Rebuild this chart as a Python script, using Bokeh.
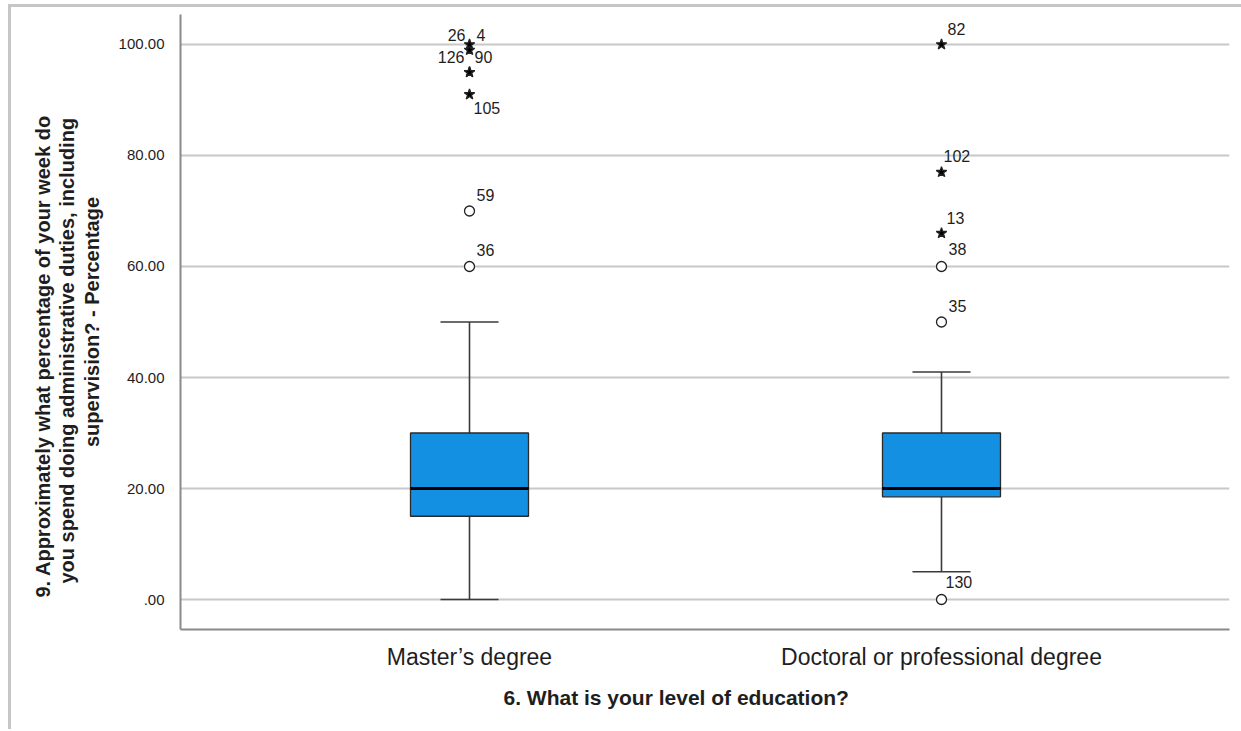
from bokeh.core.properties import value
from bokeh.embed import file_html
from bokeh.models import (ColumnDataSource, FixedTicker, InlineStyleSheet,
                          Range1d, Title)
from bokeh.plotting import figure
from bokeh.resources import INLINE

# ---- data -------------------------------------------------------------
categories = ["Master\u2019s degree", "Doctoral or professional degree"]
positions = [1, 2]

q1 = [15, 18.5]
median = [20, 20]
q3 = [30, 30]
whisker_low = [0, 5]
whisker_high = [50, 41]

# outliers: group index, value, case id, extreme (star) or not (circle)
out_group = [0, 0, 0, 0, 0, 0, 0, 1, 1, 1, 1, 1, 1]
out_value = [60, 70, 91, 95, 95, 99, 100, 0, 50, 60, 66, 77, 100]
out_case = ["36", "59", "105", "126", "90", "4", "26",
            "130", "35", "38", "13", "102", "82"]
out_extreme = [False, False, True, True, True, True, True,
               False, False, False, True, True, True]

y_ticks = [0, 20, 40, 60, 80, 100]
y_tick_labels = [".00", "20.00", "40.00", "60.00", "80.00", "100.00"]

x_title = "6. What is your level of education?"
y_title = ["9. Approximately what percentage of your week do",
           "you spend doing administrative duties, including",
           "supervision? - Percentage"]

# case-label placement (pixels: dx right, dy up, alignment)
label_dx = [7, 7, 4, -5, 5, 7, -4, 4, 7, 7, 5, 2, 6]
label_dy = [16, 16, -14, 15, 15, 15, 9, 18, 16, 17, 15, 16, 15]
label_align = ["left", "left", "left", "right", "left", "left", "right",
               "left", "left", "left", "left", "left", "left"]

# ---- styling ----------------------------------------------------------
FONT = "Liberation Sans"
BOX_W = 0.25
CAP_W = 0.123
TEXT_C = "#1e1e1e"

p = figure(width=1241, height=731, output_backend="svg", toolbar_location=None,
           x_range=Range1d(0.3877, 2.6102), y_range=Range1d(-5.405, 105.405),
           min_border_left=180, min_border_right=12, min_border_top=14,
           min_border_bottom=102)
p.outline_line_color = None
p.background_fill_color = "white"
p.border_fill_color = "white"
p.border_fill_alpha = 0
p.stylesheets = [InlineStyleSheet(css="""
:host { background: white; }
:host::after {
  content: ""; position: absolute; left: 8px; top: 4px; right: -20px;
  bottom: 2px; border-left: 3px solid #c6c6c6; border-top: 3px solid #c6c6c6;
  pointer-events: none;
}
""")]

# axes
p.yaxis.ticker = FixedTicker(ticks=y_ticks)
p.yaxis.major_label_overrides = dict(zip(y_ticks, y_tick_labels))
p.xaxis.ticker = FixedTicker(ticks=positions)
p.xaxis.major_label_overrides = dict(zip(positions, categories))
for ax in (p.xaxis[0], p.yaxis[0]):
    ax.axis_line_color = "#8a8a8a"
    ax.axis_line_width = 2
    ax.major_tick_line_color = None
    ax.minor_tick_line_color = None
    ax.major_label_text_font = FONT
    ax.major_label_text_color = TEXT_C
p.yaxis.major_label_text_font_size = "15px"
p.yaxis.major_label_standoff = 10
p.xaxis.major_label_text_font_size = "23px"
p.xaxis.major_label_standoff = 8

# y-axis title: last line as the axis label, earlier lines stacked outward
p.yaxis.axis_label = y_title[2]
p.yaxis.axis_label_standoff = 13
p.yaxis.axis_label_text_font = FONT
p.yaxis.axis_label_text_font_style = "bold"
p.yaxis.axis_label_text_font_size = "20px"
p.yaxis.axis_label_text_color = TEXT_C
for line, off in [(y_title[1], 46), (y_title[0], 32)]:
    p.add_layout(Title(text=line, align="left", offset=off, standoff=0,
                       text_font=FONT, text_font_style="bold",
                       text_font_size="20px", text_color=TEXT_C), "left")
p.add_layout(Title(text=x_title, align="left", offset=323, standoff=22,
                   text_font=FONT, text_font_style="bold",
                   text_font_size="21px", text_color=TEXT_C), "below")

p.xgrid.grid_line_color = None
p.ygrid.ticker = FixedTicker(ticks=y_ticks)
p.ygrid.grid_line_color = "#c8c8c8"
p.ygrid.grid_line_width = 2

# whiskers
p.segment(x0=positions, x1=positions, y0=q3, y1=whisker_high,
          line_color="#3a3a3a", line_width=1.6)
p.segment(x0=positions, x1=positions, y0=q1, y1=whisker_low,
          line_color="#3a3a3a", line_width=1.6)
caps_x0 = [x - CAP_W / 2 for x in positions]
caps_x1 = [x + CAP_W / 2 for x in positions]
p.segment(x0=caps_x0, x1=caps_x1, y0=whisker_high, y1=whisker_high,
          line_color="#3a3a3a", line_width=1.6)
p.segment(x0=caps_x0, x1=caps_x1, y0=whisker_low, y1=whisker_low,
          line_color="#3a3a3a", line_width=1.6)

# boxes and medians
p.vbar(x=positions, width=BOX_W, bottom=q1, top=q3,
       fill_color="#1490e3", line_color="#2a2a2a", line_width=1.3)
p.segment(x0=[x - BOX_W / 2 for x in positions],
          x1=[x + BOX_W / 2 for x in positions],
          y0=median, y1=median, line_color="black", line_width=3)

# outliers
out_x = [positions[g] for g in out_group]
src = ColumnDataSource(dict(
    x=out_x, y=out_value, case=out_case,
    marker=["star" if e else "circle" for e in out_extreme],
    fill=["black" if e else "white" for e in out_extreme],
    size=[11 if e else 10 for e in out_extreme],
    dx=label_dx, dy=[-d for d in label_dy], align=label_align,
))
p.scatter(x="x", y="y", marker="marker", size="size", fill_color="fill",
          line_color="#222222", line_width=1.3, source=src)
p.text(x="x", y="y", text="case", x_offset="dx", y_offset="dy",
       text_align="align", text_baseline="middle", text_font=value(FONT),
       text_font_size="16px", text_color=TEXT_C, source=src)

open("out.html", "w").write(file_html(p, INLINE))
